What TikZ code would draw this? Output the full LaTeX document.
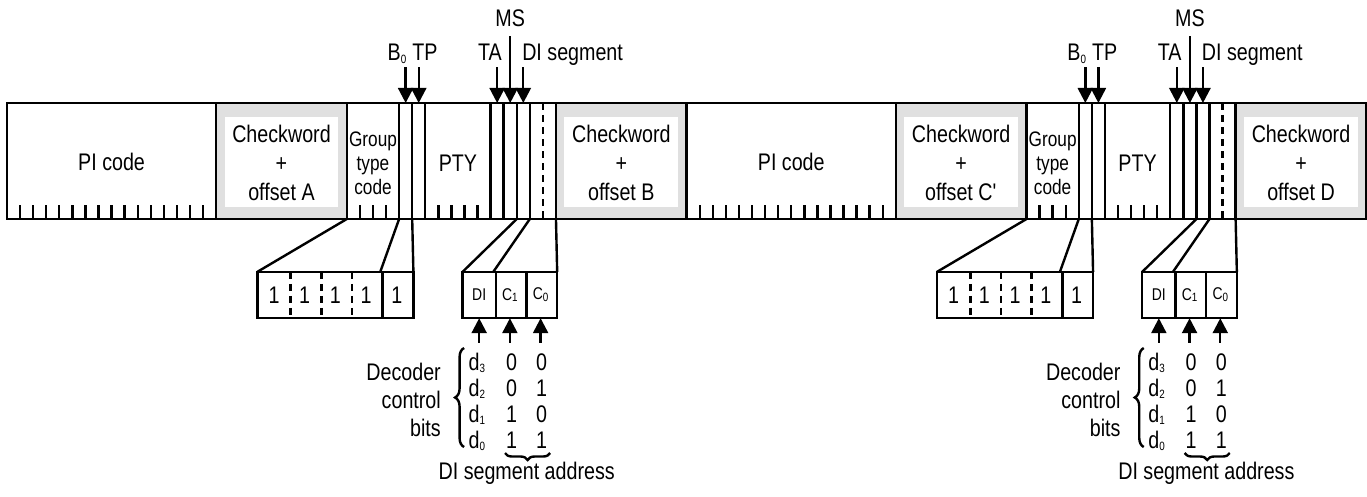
\documentclass[tikz,border=0pt]{standalone}
\usepackage{fontspec}
\setmainfont{Liberation Sans}[FakeStretch=0.82]
\usetikzlibrary{arrows.meta, decorations.pathreplacing}

\newcommand{\lowsub}[1]{\raisebox{-0.2ex}{\fontsize{6}{6}\selectfont#1}}

\tikzset{
  lbl/.style={font=\fontsize{12}{14.5}\selectfont, inner sep=0pt},
  grp/.style={font=\fontsize{10.5}{12}\selectfont, align=center, inner sep=0pt},
  tbl/.style={font=\fontsize{12}{13}\selectfont, inner sep=0pt, anchor=base},
  cell/.style={minimum width=15.36pt, minimum height=22pt, inner sep=0pt,
    font=\fontsize{12}{12}\selectfont},
  smallcell/.style={cell, font=\fontsize{8.5}{9}\selectfont},
  dots/.style={dash pattern=on 3.5pt off 2.5pt, line width=1.4pt},
  brace/.style={decorate, decoration={brace, amplitude=3.5pt}},
}

\begin{document}
\begin{tikzpicture}[x=6.535pt, y=-0.5pt, line width=1.2pt,
  >={Triangle[length=7.5pt, width=7.5pt]}]
\useasboundingbox (-0.536,0) rectangle (104.05,496);
\foreach \o/\ca/\cb in {0/A/B, 52/C\textquotesingle/D} {
\begin{scope}[shift={(\o,0)}]
% checkword fields
\foreach \c/\cw in {16/\ca, 42/\cb} {
  \fill[black!12] (\c,103) rectangle (\c+10,219);
  \fill[white] (\c+0.65,117) rectangle (\c+9.35,207);
  \node[lbl, align=center] (cw\c-\o) at (\c+5,163) {Checkword\\+\\offset \cw};
}
% field borders and bit ticks
\foreach \v in {0,16,26,30,31,32,37,38,39,40,42}
  \draw (\v,103) -- (\v,219);
\draw[dots] (41,103) -- (41,219);
\foreach \t in {1,...,15,27,28,29,33,34,35,36}
  \draw (\t,205) -- (\t,219);
\node[lbl] (pi\o) at (8,162) {PI code};
\node[grp] (gt\o) at (28,163) {Group\\type\\code};
\node[lbl] (pty\o) at (34.5,163) {PTY};
% flags from above
\foreach \n/\b/\len in {b0/30.5/36, tp/31.5/36, ta/37.5/36, ms/38.5/67, di/39.5/36} {
  \coordinate (\n top\o) at (\b,103);
  \draw[<-] (\n top\o) -- ++(0,-\len);
}
\node[lbl, anchor=base] (lb0\o) at (29.84,61) {B\lowsub{0}};
\node[lbl, anchor=base] (ltp\o) at (31.98,61) {TP};
\node[lbl, anchor=base] (lta\o) at (36.95,61) {TA};
\node[lbl, anchor=base] (lms\o) at (38.5,27) {MS};
\node[lbl, anchor=base west] (ldi\o) at (39.33,61) {DI segment};
% group type expansion
\coordinate (gtl\o) at (26,219);
\coordinate (gtr\o) at (30,219);
\coordinate (b0r\o) at (31,219);
\foreach \i/\x in {1/20.425, 2/22.775, 3/25.125, 4/27.475, 5/29.825}
  \node[cell] (g\i-\o) at (\x,295) {1};
\draw (g1-\o.north west) rectangle (g5-\o.south east);
\foreach \i in {1,2,3}
  \draw[dots] (g\i-\o.north east) -- (g\i-\o.south east);
\draw (g4-\o.north east) -- (g4-\o.south east);
\draw (gtl\o) -- (g1-\o.north west);
\draw (gtr\o) -- (g5-\o.north west);
\draw (b0r\o) -- (g5-\o.north east);
% DI segment expansion
\coordinate (dil\o) at (39,219);
\coordinate (dir\o) at (40,219);
\coordinate (cr\o) at (42,219);
\node[smallcell] (cdi-\o) at (36.125,295) {DI};
\node[smallcell] (cc1-\o) at (38.475,295) {C\lowsub{1}};
\node[smallcell] (cc0-\o) at (40.825,295) {C\lowsub{0}};
\draw (cdi-\o.north west) rectangle (cc0-\o.south east);
\draw (cdi-\o.north east) -- (cdi-\o.south east);
\draw (cc1-\o.north east) -- (cc1-\o.south east);
\draw (dil\o) -- (cdi-\o.north west);
\draw (dir\o) -- (cc1-\o.north west);
\draw (cr\o) -- (cc0-\o.north east);
\foreach \c in {cdi,cc1,cc0}
  \draw[<-] (\c-\o.south) -- ++(0,25);
% decoder table
\foreach \r/\y/\ba/\bb in {3/370/0/0, 2/396/0/1, 1/422/1/0, 0/448/1/1} {
  \node[tbl] (d\r-\o) at (35.95,\y) {d\lowsub{\r}};
  \node[tbl] (ba\r-\o) at (38.6,\y) {\ba};
  \node[tbl] (bb\r-\o) at (40.9,\y) {\bb};
}
\draw[brace, decoration={amplitude=4.5pt}] (34.97,447) -- (34.97,348);
\draw[brace] (41.55,453) -- (38.1,453);
\node[lbl, align=right, anchor=east, font=\fontsize{12}{13.8}\selectfont]
  (dec\o) at (33.28,400) {Decoder\\control\\bits};
\node[tbl] (addr\o) at (39.76,479) {DI segment address};
\end{scope}
}
\draw (0,103) rectangle (104,219);
\end{tikzpicture}
\end{document}
